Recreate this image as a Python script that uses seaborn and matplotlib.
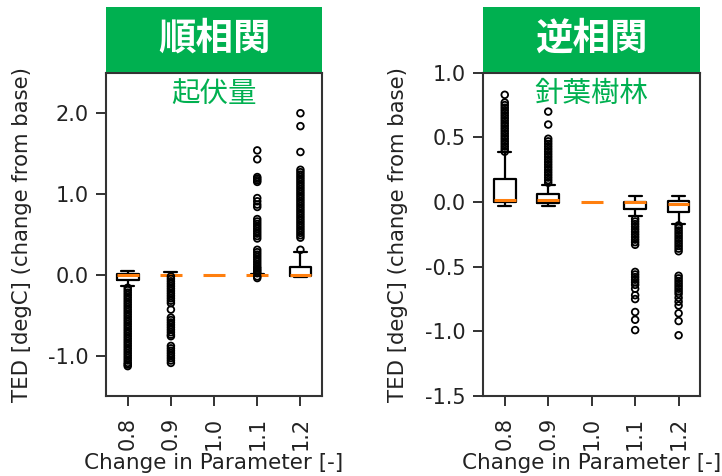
import matplotlib
matplotlib.use("Agg")
import matplotlib.pyplot as plt
import numpy as np
import seaborn as sns
import pandas as pd

# parameter multipliers on the x axis
params = ["0.8", "0.9", "1.0", "1.1", "1.2"]

# box summaries per multiplier: [lower whisker, Q1, median, Q3, upper whisker]
relief_box = {
    "0.8": [-0.135, -0.07, 0.0, 0.01, 0.05],
    "0.9": [0.0, 0.0, 0.0, 0.0, 0.03],
    "1.0": [0.0, 0.0, 0.0, 0.0, 0.0],
    "1.1": [0.0, 0.0, 0.0, 0.0, 0.01],
    "1.2": [-0.03, -0.01, 0.0, 0.10, 0.28],
}
conifer_box = {
    "0.8": [-0.03, 0.0, 0.015, 0.175, 0.386],
    "0.9": [-0.03, -0.005, 0.015, 0.066, 0.135],
    "1.0": [0.0, 0.0, 0.0, 0.0, 0.0],
    "1.1": [-0.11, -0.053, 0.0, 0.0, 0.05],
    "1.2": [-0.17, -0.073, -0.015, 0.008, 0.05],
}

# outliers
relief_out = {
    "0.8": [-0.16, -0.19, -0.22, -0.25, -0.28, -0.31, -0.34, -0.37, -0.40,
            -0.43, -0.46, -0.49, -0.52, -0.55, -0.58, -0.61, -0.64, -0.67,
            -0.70, -0.73, -0.76, -0.79, -0.82, -0.85, -0.88, -0.91, -0.94,
            -0.97, -1.00, -1.03, -1.06, -1.09, -1.11, -1.13],
    "0.9": [-0.02, -0.05, -0.08, -0.11, -0.14, -0.17, -0.20, -0.23, -0.26,
            -0.29, -0.32, -0.35, -0.43, -0.53, -0.56, -0.59, -0.62, -0.65,
            -0.68, -0.71, -0.74, -0.76, -0.88, -0.91, -0.94, -0.97, -1.00,
            -1.03, -1.06, -1.09],
    "1.0": [],
    "1.1": [-0.04, -0.02, 0.02, 0.04, 0.06, 0.08, 0.10, 0.13, 0.16, 0.19,
            0.22, 0.25, 0.28, 0.31, 0.45, 0.48, 0.51, 0.54, 0.57, 0.60, 0.63,
            0.66, 0.69, 0.84, 0.87, 0.91, 0.95, 1.15, 1.17, 1.19, 1.21,
            1.43, 1.54],
    "1.2": [0.31, 0.46, 0.49, 0.52, 0.55, 0.58, 0.61, 0.64, 0.67, 0.70, 0.73,
            0.76, 0.79, 0.82, 0.85, 0.88, 0.91, 0.94, 0.97, 1.00, 1.03, 1.06,
            1.09, 1.12, 1.15, 1.18, 1.21, 1.24, 1.27, 1.30, 1.52, 1.84, 2.00],
}
conifer_out = {
    "0.8": [0.39, 0.41, 0.43, 0.45, 0.47, 0.49, 0.51, 0.53, 0.55, 0.57, 0.59,
            0.61, 0.63, 0.65, 0.67, 0.69, 0.71, 0.73, 0.75, 0.77, 0.83],
    "0.9": [0.15, 0.17, 0.19, 0.21, 0.23, 0.25, 0.27, 0.29, 0.31, 0.33, 0.35,
            0.37, 0.39, 0.41, 0.43, 0.45, 0.47, 0.49, 0.60, 0.70],
    "1.0": [],
    "1.1": [-0.13, -0.15, -0.17, -0.19, -0.21, -0.23, -0.25, -0.27, -0.29,
            -0.31, -0.33, -0.54, -0.56, -0.58, -0.60, -0.62, -0.64, -0.67,
            -0.72, -0.75, -0.85, -0.91, -0.99],
    "1.2": [-0.18, -0.20, -0.22, -0.24, -0.26, -0.28, -0.30, -0.32, -0.34,
            -0.36, -0.38, -0.57, -0.59, -0.61, -0.63, -0.65, -0.67, -0.69,
            -0.71, -0.74, -0.77, -0.80, -0.86, -0.92, -1.03],
}

panels = [
    ("順相関", "起伏量", relief_box, relief_out, (-1.5, 2.5), [-1.0, 0.0, 1.0, 2.0]),
    ("逆相関", "針葉樹林", conifer_box, conifer_out, (-1.5, 1.0),
     [-1.5, -1.0, -0.5, 0.0, 0.5, 1.0]),
]

sns.set_style("ticks")
plt.rcParams["font.family"] = ["DejaVu Sans", "Noto Sans CJK JP"]
plt.rcParams["axes.unicode_minus"] = False

green = "#00B050"
orange = "#ff7f0e"
ink = "#222222"

fig = plt.figure(figsize=(7.22, 4.76), dpi=100)
axes_pos = [[0.147, 0.168, 0.299, 0.679], [0.669, 0.168, 0.301, 0.679]]

for (head, sub, box, out, ylim, yticks), pos in zip(panels, axes_pos):
    ax = fig.add_axes(pos)
    box_df = pd.DataFrame([(p, v) for p in params for v in box[p]],
                          columns=["param", "ted"])
    out_df = pd.DataFrame([(p, v) for p in params for v in out[p]],
                          columns=["param", "ted"])

    sns.boxplot(data=box_df, x="param", y="ted", order=params, ax=ax,
                whis=(0, 100), width=0.5, fill=False, color="black",
                linewidth=1.6, showfliers=False,
                medianprops={"color": orange, "linewidth": 2.2},
                capwidths=0.3)
    # flat boxes (Q1 == Q3) only show their median, as in the original
    flat = []
    for ln in ax.lines:
        y = np.asarray(ln.get_ydata(), dtype=float)
        if len(y) == 5 and np.ptp(y) == 0:
            x = np.asarray(ln.get_xdata(), dtype=float)
            flat.append((y[0], x.min(), x.max()))
    for ln in ax.lines:
        if ln.get_color() == orange:
            continue
        y = np.asarray(ln.get_ydata(), dtype=float)
        x = np.asarray(ln.get_xdata(), dtype=float)
        if np.ptp(y) != 0:
            continue
        for y0, x0, x1 in flat:
            if y[0] == y0 and x.min() >= x0 and x.max() <= x1:
                ln.set_visible(False)
    sns.stripplot(data=out_df, x="param", y="ted", order=params, ax=ax,
                  jitter=False, size=4.8, marker="o", facecolors="none",
                  edgecolor="black", linewidth=1.3, zorder=3)

    ax.set_xlim(-0.5, 4.5)
    ax.set_ylim(*ylim)
    ax.set_yticks(yticks)
    ax.set_yticklabels([f"{t:.1f}" for t in yticks])
    ax.tick_params(axis="both", labelsize=15, colors=ink, length=7,
                   width=1.3, pad=5.5)
    ax.tick_params(axis="x", rotation=90, pad=8)
    ax.set_xlabel("Change in Parameter [-]", fontsize=15.5, color=ink, labelpad=2)
    ax.set_ylabel("TED [degC] (change from base)", fontsize=15.3, color=ink)
    ax.yaxis.set_label_coords(-0.345, 0.5)
    for s in ax.spines.values():
        s.set_color("#333333")
        s.set_linewidth(1.5)

    ax.text(0.5, 0.935, sub, transform=ax.transAxes, ha="center", va="center",
            fontsize=20.5, color=green, family=["Noto Sans CJK JP"])

    hx = fig.add_axes([pos[0], 0.849, pos[2], 0.137])
    hx.set_facecolor(green)
    hx.set_xticks([])
    hx.set_yticks([])
    for s in hx.spines.values():
        s.set_visible(False)
    hx.text(0.5, 0.52, head, transform=hx.transAxes, ha="center", va="center",
            fontsize=27, color="white", fontweight="bold",
            family=["Noto Sans CJK JP"])

fig.savefig("out.png", dpi=100)
